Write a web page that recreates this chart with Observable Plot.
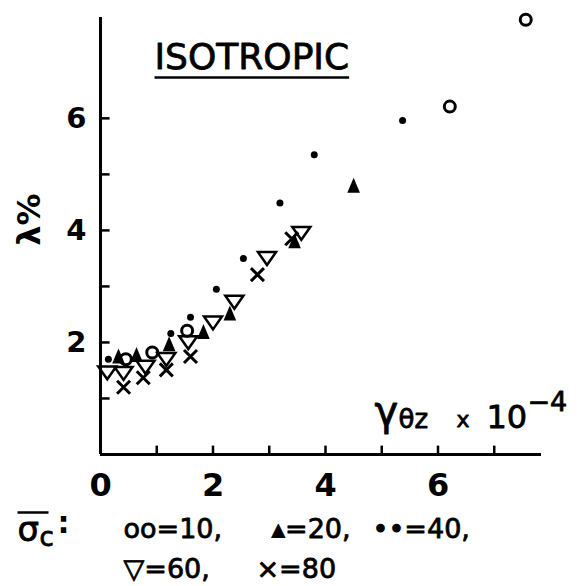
<!DOCTYPE html>
<html><head><meta charset="utf-8">
<script src="https://cdn.jsdelivr.net/npm/d3@7"></script>
<script src="https://cdn.jsdelivr.net/npm/@observablehq/plot@0.6"></script>
<style>html,body{margin:0;padding:0;background:#fff}</style>
</head><body><div id="chart"></div>
<script>
// ---- data ----
const xMinorTicks = [1, 2, 3, 4, 5, 6, 7];
const xTickLabels = [0, 2, 4, 6];
const yMinorTicks = [1, 2, 3, 4, 5, 6];
const yTickLabels = [2, 4, 6];

// σc = 10 (open circles)
const sigma10X = [0.45, 0.92, 1.54, 6.21, 7.56];
const sigma10Y = [1.70, 1.82, 2.21, 6.21, 7.76];
// σc = 20 (filled triangles)
const sigma20X = [0.32, 0.64, 1.22, 1.83, 2.30, 3.45, 4.50];
const sigma20Y = [1.74, 1.77, 1.96, 2.18, 2.51, 3.80, 4.79];
// σc = 40 (dots)
const sigma40X = [0.14, 1.25, 1.60, 2.06, 2.54, 3.19, 3.80, 5.37];
const sigma40Y = [1.70, 2.16, 2.45, 2.95, 3.50, 4.49, 5.35, 5.96];
// σc = 60 (open down triangles)
const sigma60X = [0.12, 0.41, 0.80, 1.17, 1.56, 2.00, 2.38, 2.96, 3.57];
const sigma60Y = [1.46, 1.45, 1.56, 1.70, 2.00, 2.35, 2.72, 3.50, 3.95];
// σc = 80 (crosses)
const sigma80X = [0.41, 0.76, 1.17, 1.60, 2.79, 3.40];
const sigma80Y = [1.20, 1.37, 1.51, 1.75, 3.21, 3.85];

const pts = (xs, ys) => xs.map((x, i) => ({x, y: ys[i]}));

// ---- custom symbols ----
const triUp = {draw(c, size) { const s = Math.sqrt(size / Math.PI);
  c.moveTo(0, -1.4 * s); c.lineTo(1.05 * s, 1.1 * s); c.lineTo(-1.05 * s, 1.1 * s); c.closePath(); }};
const triDown = {draw(c, size) { const s = Math.sqrt(size / Math.PI);
  c.moveTo(-1.5 * s, -1.05 * s); c.lineTo(1.5 * s, -1.05 * s); c.lineTo(0, 1.1 * s); c.closePath(); }};
const cross = {draw(c, size) { const s = Math.sqrt(size / Math.PI);
  c.moveTo(-s, -s); c.lineTo(s, s); c.moveTo(s, -s); c.lineTo(-s, s); }};

// ---- layout helpers ----
const ML = 100, MT = 17;
const FONT = "DejaVu Sans";
const label = (t, x, y, o = {}) => Plot.text([t], {frameAnchor: "top-left", dx: x - ML, dy: y - MT,
  textAnchor: "start", lineAnchor: "bottom", fontFamily: FONT, fill: "black", ...o});
const heavy = {stroke: "black", strokeWidth: 0.8};

const plot = Plot.plot({
  width: 585, height: 586,
  marginLeft: ML, marginRight: 44, marginTop: MT, marginBottom: 132,
  x: {domain: [0, 7.84], axis: null},
  y: {domain: [0, 7.8], axis: null},
  style: {background: "white", overflow: "visible", fontFamily: FONT},
  marks: [
    Plot.ruleX([0], {strokeWidth: 3}),
    Plot.ruleY([0], {strokeWidth: 3}),
    Plot.ruleX(xMinorTicks, {x: d => d, y1: 0, y2: 0.15, strokeWidth: 2.5}),
    Plot.ruleY(yMinorTicks, {y: d => d, x1: 0, x2: 0.17, strokeWidth: 2.5}),
    Plot.text(xTickLabels, {x: d => d, frameAnchor: "bottom", dy: 19, lineAnchor: "top",
      text: d => String(d), fontSize: 32, fontWeight: "bold", fontFamily: FONT}),
    Plot.text(yTickLabels, {y: d => d, frameAnchor: "left", dx: -14, textAnchor: "end",
      text: d => String(d), fontSize: 29, fontWeight: "bold", fontFamily: FONT}),

    Plot.dot(pts(sigma10X, sigma10Y), {x: "x", y: "y", symbol: "circle", r: 5.5, stroke: "black", strokeWidth: 3, fill: "none"}),
    Plot.dot(pts(sigma20X, sigma20Y), {x: "x", y: "y", symbol: triUp, r: 6, fill: "black", stroke: "none"}),
    Plot.dot(pts(sigma40X, sigma40Y), {x: "x", y: "y", symbol: "circle", r: 3.5, fill: "black", stroke: "none"}),
    Plot.dot(pts(sigma60X, sigma60Y), {x: "x", y: "y", symbol: triDown, r: 6, stroke: "black", strokeWidth: 2.5, fill: "none"}),
    Plot.dot(pts(sigma80X, sigma80Y), {x: "x", y: "y", symbol: cross, r: 6.5, stroke: "black", strokeWidth: 3, fill: "none"}),

    label("ISOTROPIC", 154, 68, {fontSize: 36, ...heavy}),
    label("λ%", 29, 219, {rotate: -90, textAnchor: "middle", lineAnchor: "middle", fontSize: 32, fontWeight: "bold"}),

    label("γ", 374, 424, {fontSize: 40, ...heavy}),
    label("θz", 398, 427, {fontSize: 26, ...heavy}),
    label("x", 456, 426, {fontSize: 22, ...heavy}),
    label("10", 486, 427, {fontSize: 32, ...heavy}),
    label("−4", 527, 410, {fontSize: 27, ...heavy}),

    label("σ", 17, 540, {fontSize: 34, ...heavy}),
    label("c", 39, 545, {fontSize: 26, ...heavy}),
    label(":", 57, 532, {fontSize: 30, fontWeight: "bold"}),
    label("oo=10,", 123, 537, {fontSize: 27, ...heavy}),
    label("▴=20,", 271, 537, {fontSize: 27, ...heavy}),
    label("••=40,", 372, 537, {fontSize: 27, ...heavy}),
    label("▽=60,", 123, 577, {fontSize: 27, ...heavy}),
    label("×=80", 256, 577, {fontSize: 27, ...heavy})
  ]
});
document.getElementById("chart").append(plot);

// underline / overline decorations derived from text boxes
const svgNS = "http://www.w3.org/2000/svg";
const texts = [...plot.querySelectorAll("text")];
const find = s => texts.find(e => e.textContent === s);
function decor(el, x1, x2, y, w) {
  const l = document.createElementNS(svgNS, "line");
  l.setAttribute("x1", x1); l.setAttribute("x2", x2);
  l.setAttribute("y1", y); l.setAttribute("y2", y);
  l.setAttribute("stroke", "black"); l.setAttribute("stroke-width", w);
  const tr = el.getAttribute("transform");
  if (tr) l.setAttribute("transform", tr);
  el.parentNode.appendChild(l);
}
const iso = find("ISOTROPIC");
if (iso) { const b = iso.getBBox(); decor(iso, b.x, b.x + b.width, b.y + b.height + 1, 2.5); }
const sig = find("σ");
if (sig) { const b = sig.getBBox(); decor(sig, b.x, b.x + 31, b.y + 4, 2.5); }
</script>
</body></html>
